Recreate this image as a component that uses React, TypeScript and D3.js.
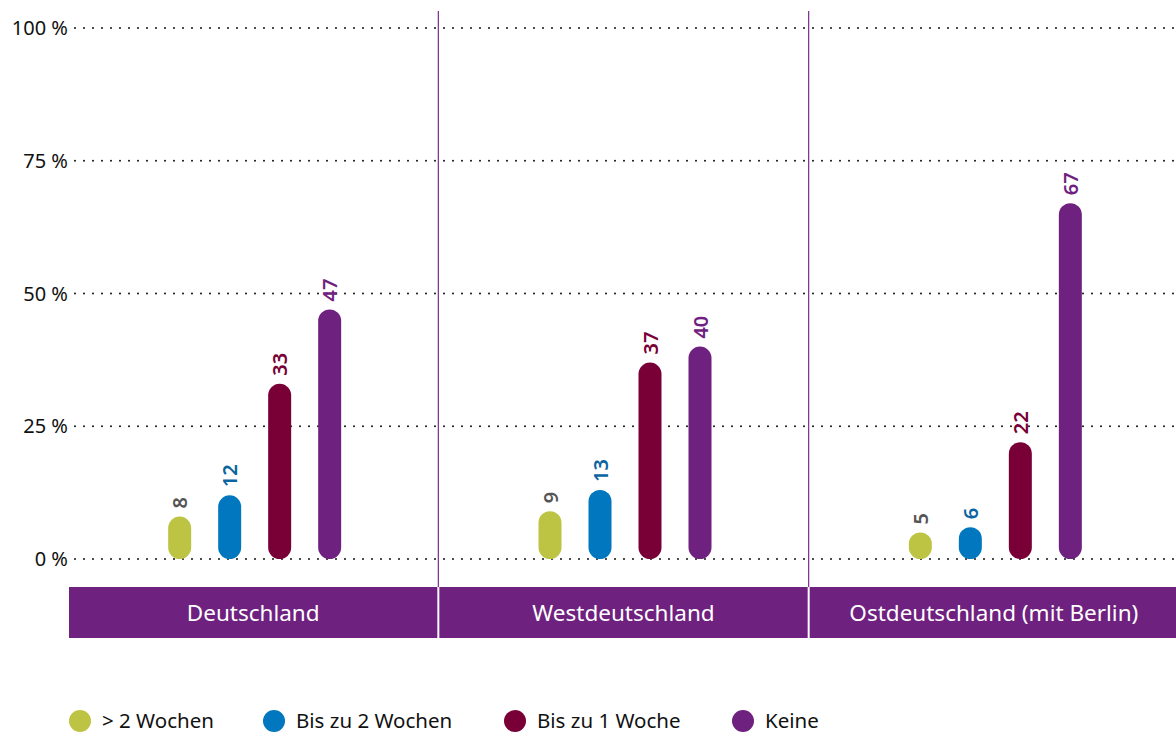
import * as d3 from 'd3';

const width = 1176;
const height = 733;

const regions = ['Deutschland', 'Westdeutschland', 'Ostdeutschland (mit Berlin)'];
const series = ['> 2 Wochen', 'Bis zu 2 Wochen', 'Bis zu 1 Woche', 'Keine'];
const colors = ['#bdc443', '#0077be', '#780036', '#6f2180'];
const labelColors = ['#555555', '#0a64a0', '#780036', '#6f2180'];
const values = [
  [8, 12, 33, 47],
  [9, 13, 37, 40],
  [5, 6, 22, 67],
];
const yTicks = [0, 25, 50, 75, 100];

const font = '"Noto Sans", "Open Sans", sans-serif';

export default function App() {
  const y = d3.scaleLinear().domain([0, 100]).range([559, 28]);
  const x = d3.scaleBand().domain(regions).range([68, 1179]).padding(0);
  const inner = d3
    .scaleBand()
    .domain(series)
    .range([x.bandwidth() / 2 - 98.5, x.bandwidth() / 2 + 101.5]);
  const barW = 23;

  return (
    <svg
      width={width}
      height={height}
      style={{ position: 'absolute', left: 0, top: 0, fontFamily: font }}
    >
      {/* gridlines + y labels */}
      {yTicks.map((t) => (
        <g key={t}>
          <line
            x1={75}
            x2={width}
            y1={y(t)}
            y2={y(t)}
            stroke="#111"
            strokeWidth={2}
            strokeLinecap="round"
            strokeDasharray="0 9"
          />
          <text x={68} y={y(t) + 7} textAnchor="end" fontSize={20} fill="#111">
            {t} %
          </text>
        </g>
      ))}

      {/* vertical separators */}
      {regions.slice(1).map((r) => (
        <line
          key={r}
          x1={x(r)!}
          x2={x(r)!}
          y1={11}
          y2={587}
          stroke="#7a2a8c"
          strokeWidth={1.2}
        />
      ))}

      {/* bars */}
      {regions.map((r, gi) => (
        <g key={r} transform={`translate(${x(r)},0)`}>
          {series.map((s, si) => {
            const v = values[gi][si];
            const cx = inner(s)! + inner.bandwidth() / 2;
            const top = y(v);
            return (
              <g key={s}>
                <rect
                  x={cx - barW / 2}
                  y={top}
                  width={barW}
                  height={y(0) - top}
                  rx={barW / 2}
                  ry={barW / 2}
                  fill={colors[si]}
                />
                <text
                  transform={`translate(${cx + 7.5},${top - 8}) rotate(-90)`}
                  fontSize={20}
                  fontWeight={600}
                  fill={labelColors[si]}
                >
                  {v}
                </text>
              </g>
            );
          })}
        </g>
      ))}

      {/* category band */}
      {regions.map((r, i) => (
        <g key={r}>
          <rect
            x={x(r)! + (i === 0 ? 1 : 1)}
            y={587}
            width={x.bandwidth() - 2 + (i === regions.length - 1 ? 2 : 0)}
            height={51}
            fill="#6f2180"
          />
          <text
            x={x(r)! + x.bandwidth() / 2}
            y={621}
            textAnchor="middle"
            fontSize={22.5}
            fill="#fff"
          >
            {r}
          </text>
        </g>
      ))}

      {/* legend */}
      {series.map((s, i) => {
        const lx = [80, 274, 515, 743][i];
        return (
          <g key={s} transform={`translate(${lx},721)`}>
            <circle r={11} fill={colors[i]} />
            <text x={22} y={7} fontSize={20.5} fill="#111">
              {s}
            </text>
          </g>
        );
      })}
    </svg>
  );
}
